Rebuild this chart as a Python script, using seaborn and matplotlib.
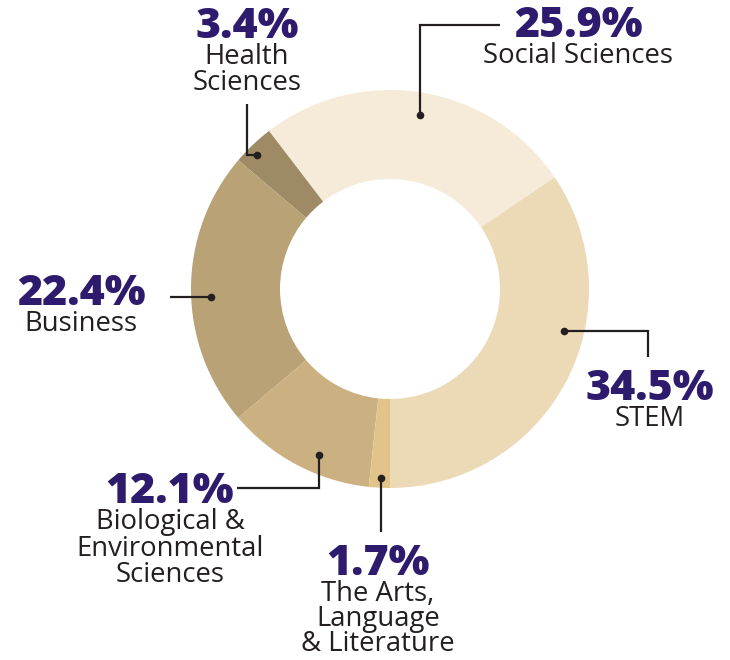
import matplotlib
matplotlib.use("Agg")
import matplotlib.pyplot as plt
import seaborn as sns

sns.set_theme(style="white")
plt.rcParams['font.family'] = ['Open Sans', 'DejaVu Sans']

# ---- data ----
categories = ["STEM", "Social Sciences", "Health Sciences", "Business",
              "Biological & Environmental Sciences", "The Arts, Language & Literature"]
shares = [34.5, 25.9, 3.4, 22.4, 12.1, 1.7]
pct_labels = ["34.5%", "25.9%", "3.4%", "22.4%", "12.1%", "1.7%"]
name_lines = [["STEM"], ["Social Sciences"], ["Health", "Sciences"], ["Business"],
              ["Biological &", "Environmental", "Sciences"],
              ["The Arts,", "Language", "& Literature"]]
colors = ["#ecdab7", "#f5ebd8", "#9e8a65", "#b8a276", "#cbb182", "#e2c48b"]

# ---- layout (pixel coordinates, y downward) ----
W, H = 730, 660
CX, CY, R_OUT, R_IN = 390, 289, 199, 110
PURPLE = "#2f1b6e"
INK = "#231f20"

# label anchor: (center x, baseline of percent, line spacing)
label_pos = [(650, 400, 26.5), (578, 37, 26.5), (247, 38, 26.5), (81, 305, 26.5),
             (170, 503, 26.5), (378, 575, 25.0)]
# leader paths (dot first)
leaders = [
    [(564, 331), (648, 331), (648, 357)],
    [(420, 115), (420, 25), (500, 25)],
    [(257, 155), (247, 155), (247, 104)],
    [(211, 297), (170, 297)],
    [(319, 455), (319, 488), (237, 488)],
    [(381, 478), (381, 532)],
]

fig = plt.figure(figsize=(W / 100, H / 100), dpi=100)
ax = fig.add_axes([0, 0, 1, 1])
ax.pie(shares, colors=colors, startangle=90, counterclock=False,
       center=(CX, CY), radius=R_OUT,
       wedgeprops=dict(width=R_OUT - R_IN, linewidth=0))
ax.set_xlim(0, W)
ax.set_ylim(H, 0)
ax.set_aspect("equal")
ax.axis("off")

for path in leaders:
    xs = [p[0] for p in path]
    ys = [p[1] for p in path]
    ax.plot(xs, ys, color=INK, lw=1.6, solid_capstyle="butt", solid_joinstyle="miter")
    ax.plot([xs[0]], [ys[0]], "o", color=INK, ms=4.5)

for (x, yb, sp), pct, lines in zip(label_pos, pct_labels, name_lines):
    ax.text(x, yb, pct, ha="center", va="baseline", fontsize=31,
            fontweight=800, color=PURPLE)
    for i, ln in enumerate(lines):
        ax.text(x, yb + 26 + i * sp, ln, ha="center", va="baseline",
                fontsize=19.8, color=INK)

fig.savefig("out.png", dpi=100, facecolor="white")
